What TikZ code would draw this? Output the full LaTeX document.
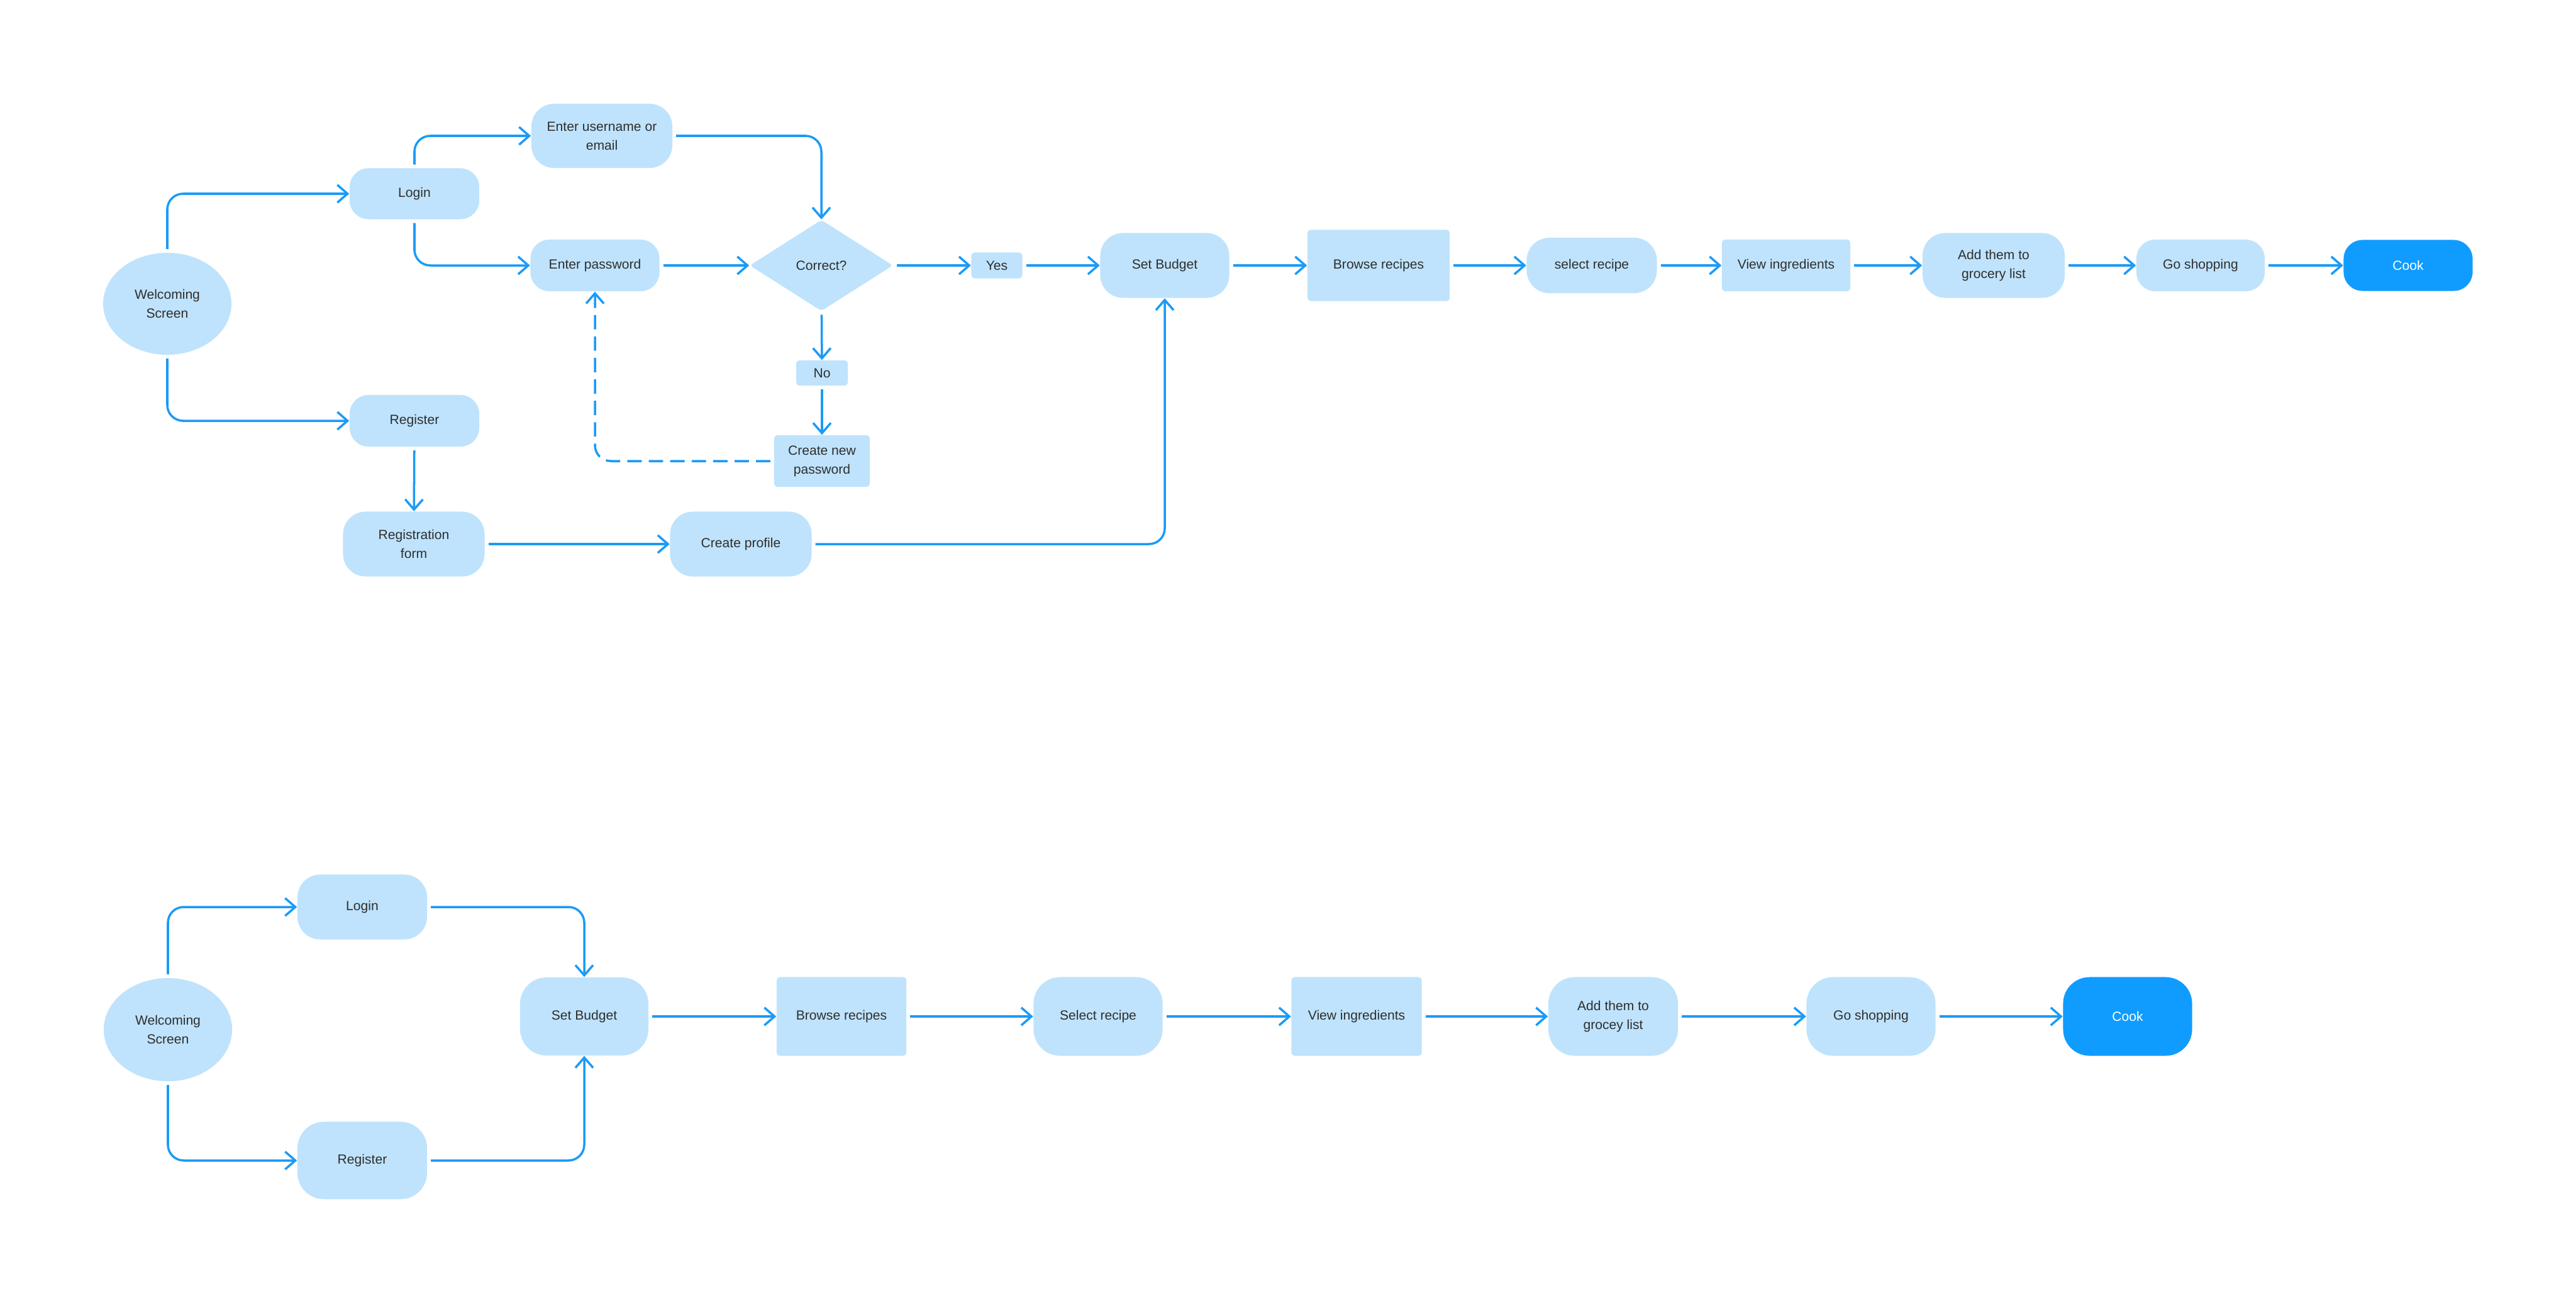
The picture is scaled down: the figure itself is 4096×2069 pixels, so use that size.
\documentclass[tikz,border=0pt]{standalone}
\usepackage{fontspec}
\setmainfont{Liberation Sans}
\usetikzlibrary{shapes.geometric,arrows.meta}
\definecolor{lb}{HTML}{BFE3FC}
\definecolor{ln}{HTML}{1A9BF7}
\definecolor{ck}{HTML}{109CFF}
\definecolor{tx}{HTML}{2E2E2E}
\begin{document}
\begin{tikzpicture}[x=0.01cm,y=-0.01cm,
  every node/.style={font=\fontsize{6pt}{8.5pt}\selectfont, text=tx, align=center, inner sep=0pt},
  rb/.style={fill=lb, rounded corners=0.30cm},
  rm/.style={fill=lb, rounded corners=0.36cm},
  rl/.style={fill=lb, rounded corners=0.42cm},
  sq/.style={fill=lb, rounded corners=0.05cm},
  el/.style={ellipse, fill=lb},
  dm/.style={diamond, fill=lb, rounded corners=0.05cm},
  cookbox/.style={fill=ck, text=white},
  arr/.style={draw=ln, line width=1pt, -{Straight Barb[length=4.6pt,width=8pt]}, shorten <=1.5pt, rounded corners=0.25cm},
  dsh/.style={arr, dash pattern=on 6.5pt off 3.2pt}
]
\fill[white] (0,0) rectangle (4096,2069);
\useasboundingbox (0,0) rectangle (4096,2069);

% ---------- top flow ----------
\node[el, minimum width=2.04cm, minimum height=1.62cm] (ws1) at (266,483) {Welcoming\\Screen};
\node[rb, minimum width=2.06cm, minimum height=0.81cm] (login1) at (659,308) {Login};
\node[rm, minimum width=2.24cm, minimum height=1.02cm] (user) at (957,216) {Enter username or\\email};
\node[rb, minimum width=2.05cm, minimum height=0.82cm] (pass) at (946,422) {Enter password};
\node[dm, minimum width=2.28cm, minimum height=1.45cm] (correct) at (1306,422) {Correct?};
\node[sq, minimum width=0.81cm, minimum height=0.41cm] (yes) at (1585,422) {Yes};
\node[sq, minimum width=0.82cm, minimum height=0.40cm] (no) at (1307,593) {No};
\node[sq, minimum width=1.52cm, minimum height=0.82cm] (newpw) at (1307,733) {Create new\\password};
\node[rb, minimum width=2.06cm, minimum height=0.82cm] (reg1) at (659,669) {Register};
\node[rm, minimum width=2.25cm, minimum height=1.03cm] (regform) at (658,865) {Registration\\form};
\node[rm, minimum width=2.25cm, minimum height=1.03cm] (profile) at (1178,865) {Create profile};
\node[rm, minimum width=2.05cm, minimum height=1.03cm] (sb1) at (1852,422) {Set Budget};
\node[sq, minimum width=2.26cm, minimum height=1.13cm] (browse1) at (2192,422) {Browse recipes};
\node[rm, minimum width=2.07cm, minimum height=0.88cm] (select1) at (2531,422) {select recipe};
\node[sq, minimum width=2.04cm, minimum height=0.82cm] (view1) at (2840,422) {View ingredients};
\node[rm, minimum width=2.26cm, minimum height=1.03cm] (add1) at (3170,422) {Add them to\\grocery list};
\node[rb, minimum width=2.04cm, minimum height=0.82cm] (shop1) at (3499,422) {Go shopping};
\node[rb, cookbox, minimum width=2.05cm, minimum height=0.81cm] (cook1) at (3829,422) {Cook};

\draw[arr] (ws1.north) |- (login1.west);
\draw[arr] (ws1.south) |- (reg1.west);
\draw[arr] (login1.north) |- (user.west);
\draw[arr] (login1.south) |- (pass.west);
\draw[arr] (user.east) -| (correct.north);
\draw[arr] (pass) -- (correct);
\draw[arr] (correct) -- (yes);
\draw[arr] (yes) -- (sb1);
\draw[arr] (correct) -- (no);
\draw[arr] (no) -- (newpw);
\draw[dsh] (newpw.west) -| (pass.south);
\draw[arr] (reg1) -- (regform);
\draw[arr] (regform) -- (profile);
\draw[arr] (profile.east) -| (sb1.south);
\draw[arr] (sb1) -- (browse1);
\draw[arr] (browse1) -- (select1);
\draw[arr] (select1) -- (view1);
\draw[arr] (view1) -- (add1);
\draw[arr] (add1) -- (shop1);
\draw[arr] (shop1) -- (cook1);

% ---------- bottom flow ----------
\node[el, minimum width=2.04cm, minimum height=1.64cm] (ws2) at (267,1637) {Welcoming\\Screen};
\node[rm, minimum width=2.06cm, minimum height=1.03cm] (login2) at (576,1442) {Login};
\node[rl, minimum width=2.06cm, minimum height=1.23cm] (reg2) at (576,1845) {Register};
\node[rl, minimum width=2.04cm, minimum height=1.24cm] (sb2) at (929,1616) {Set Budget};
\node[sq, minimum width=2.06cm, minimum height=1.25cm] (browse2) at (1338,1616) {Browse recipes};
\node[rl, minimum width=2.05cm, minimum height=1.25cm] (select2) at (1746,1616) {Select recipe};
\node[sq, minimum width=2.07cm, minimum height=1.25cm] (view2) at (2157,1616) {View ingredients};
\node[rl, minimum width=2.06cm, minimum height=1.25cm] (add2) at (2565,1616) {Add them to\\grocey list};
\node[rl, minimum width=2.05cm, minimum height=1.25cm] (shop2) at (2975,1616) {Go shopping};
\node[rl, cookbox, minimum width=2.05cm, minimum height=1.25cm] (cook2) at (3383,1616) {Cook};

\draw[arr] (ws2.north) |- (login2.west);
\draw[arr] (ws2.south) |- (reg2.west);
\draw[arr] (login2.east) -| (sb2.north);
\draw[arr] (reg2.east) -| (sb2.south);
\draw[arr] (sb2) -- (browse2);
\draw[arr] (browse2) -- (select2);
\draw[arr] (select2) -- (view2);
\draw[arr] (view2) -- (add2);
\draw[arr] (add2) -- (shop2);
\draw[arr] (shop2) -- (cook2);
\end{tikzpicture}
\end{document}
